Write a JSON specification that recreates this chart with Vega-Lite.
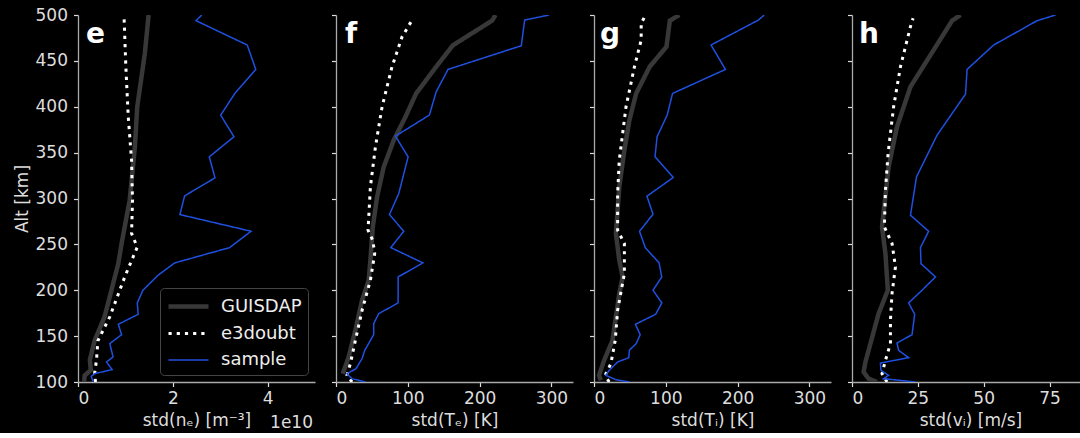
{
  "$schema": "https://vega.github.io/schema/vega-lite/v6.json",
  "background": "#000000",
  "padding": {"left": 13, "top": 6, "right": 0, "bottom": 2},
  "spacing": 21,
  "bounds": "flush",
  "datasets": {
    "d": [
      {"panel":"e","series":"GUISDAP","alt":500,"value":1.49e10},
      {"panel":"e","series":"GUISDAP","alt":458,"value":1.41e10},
      {"panel":"e","series":"GUISDAP","alt":400,"value":1.25e10},
      {"panel":"e","series":"GUISDAP","alt":356,"value":1.20e10},
      {"panel":"e","series":"GUISDAP","alt":298,"value":1.09e10},
      {"panel":"e","series":"GUISDAP","alt":251,"value":0.92e10},
      {"panel":"e","series":"GUISDAP","alt":229,"value":0.85e10},
      {"panel":"e","series":"GUISDAP","alt":171,"value":0.56e10},
      {"panel":"e","series":"GUISDAP","alt":145,"value":0.35e10},
      {"panel":"e","series":"GUISDAP","alt":124,"value":0.25e10},
      {"panel":"e","series":"GUISDAP","alt":113,"value":0.27e10},
      {"panel":"e","series":"GUISDAP","alt":107,"value":0.14e10},
      {"panel":"e","series":"GUISDAP","alt":100,"value":0.13e10},
      {"panel":"e","series":"e3doubt","alt":500,"value":0.97e10},
      {"panel":"e","series":"e3doubt","alt":443,"value":1.01e10},
      {"panel":"e","series":"e3doubt","alt":389,"value":1.06e10},
      {"panel":"e","series":"e3doubt","alt":342,"value":1.13e10},
      {"panel":"e","series":"e3doubt","alt":298,"value":1.15e10},
      {"panel":"e","series":"e3doubt","alt":262,"value":1.13e10},
      {"panel":"e","series":"e3doubt","alt":247,"value":1.25e10},
      {"panel":"e","series":"e3doubt","alt":236,"value":1.16e10},
      {"panel":"e","series":"e3doubt","alt":215,"value":0.99e10},
      {"panel":"e","series":"e3doubt","alt":171,"value":0.67e10},
      {"panel":"e","series":"e3doubt","alt":145,"value":0.42e10},
      {"panel":"e","series":"e3doubt","alt":124,"value":0.39e10},
      {"panel":"e","series":"e3doubt","alt":109,"value":0.35e10},
      {"panel":"e","series":"e3doubt","alt":100,"value":0.37e10},
      {"panel":"e","series":"sample","alt":500,"value":2.61e10},
      {"panel":"e","series":"sample","alt":493.8,"value":2.49e10},
      {"panel":"e","series":"sample","alt":467.3,"value":3.57e10},
      {"panel":"e","series":"sample","alt":440.7,"value":3.75e10},
      {"panel":"e","series":"sample","alt":414.5,"value":3.31e10},
      {"panel":"e","series":"sample","alt":390.9,"value":3.01e10},
      {"panel":"e","series":"sample","alt":367.3,"value":3.29e10},
      {"panel":"e","series":"sample","alt":345.4,"value":2.77e10},
      {"panel":"e","series":"sample","alt":322.5,"value":2.89e10},
      {"panel":"e","series":"sample","alt":302.9,"value":2.25e10},
      {"panel":"e","series":"sample","alt":282.5,"value":2.15e10},
      {"panel":"e","series":"sample","alt":264.3,"value":3.65e10},
      {"panel":"e","series":"sample","alt":246.5,"value":3.20e10},
      {"panel":"e","series":"sample","alt":229.8,"value":2.04e10},
      {"panel":"e","series":"sample","alt":216.4,"value":1.69e10},
      {"panel":"e","series":"sample","alt":200.0,"value":1.37e10},
      {"panel":"e","series":"sample","alt":186.2,"value":1.25e10},
      {"panel":"e","series":"sample","alt":173.8,"value":1.27e10},
      {"panel":"e","series":"sample","alt":162.9,"value":0.85e10},
      {"panel":"e","series":"sample","alt":151.6,"value":0.92e10},
      {"panel":"e","series":"sample","alt":141.8,"value":0.67e10},
      {"panel":"e","series":"sample","alt":127.3,"value":0.74e10},
      {"panel":"e","series":"sample","alt":121.8,"value":0.60e10},
      {"panel":"e","series":"sample","alt":113.5,"value":0.72e10},
      {"panel":"e","series":"sample","alt":109.1,"value":0.35e10},
      {"panel":"e","series":"sample","alt":106.2,"value":0.28e10},
      {"panel":"e","series":"sample","alt":100,"value":0.32e10},

      {"panel":"f","series":"GUISDAP","alt":500,"value":222},
      {"panel":"f","series":"GUISDAP","alt":494,"value":217.6},
      {"panel":"f","series":"GUISDAP","alt":467,"value":162.8},
      {"panel":"f","series":"GUISDAP","alt":443.6,"value":139.5},
      {"panel":"f","series":"GUISDAP","alt":414.5,"value":111.6},
      {"panel":"f","series":"GUISDAP","alt":389,"value":96.7},
      {"panel":"f","series":"GUISDAP","alt":363.6,"value":80.4},
      {"panel":"f","series":"GUISDAP","alt":334.5,"value":66.5},
      {"panel":"f","series":"GUISDAP","alt":301.8,"value":57.2},
      {"panel":"f","series":"GUISDAP","alt":269,"value":51.2},
      {"panel":"f","series":"GUISDAP","alt":232.7,"value":47.9},
      {"panel":"f","series":"GUISDAP","alt":211,"value":45.6},
      {"panel":"f","series":"GUISDAP","alt":189,"value":36.3},
      {"panel":"f","series":"GUISDAP","alt":156.4,"value":27},
      {"panel":"f","series":"GUISDAP","alt":127.3,"value":17.7},
      {"panel":"f","series":"GUISDAP","alt":109,"value":9.3},
      {"panel":"f","series":"e3doubt","alt":494.5,"value":106},
      {"panel":"f","series":"e3doubt","alt":476.3,"value":92},
      {"panel":"f","series":"e3doubt","alt":443.6,"value":78},
      {"panel":"f","series":"e3doubt","alt":400,"value":64.2},
      {"panel":"f","series":"e3doubt","alt":356.3,"value":54.9},
      {"panel":"f","series":"e3doubt","alt":312.7,"value":47.9},
      {"panel":"f","series":"e3doubt","alt":265.4,"value":44.6},
      {"panel":"f","series":"e3doubt","alt":254.5,"value":51.2},
      {"panel":"f","series":"e3doubt","alt":240,"value":53.9},
      {"panel":"f","series":"e3doubt","alt":211,"value":47.9},
      {"panel":"f","series":"e3doubt","alt":178,"value":36.3},
      {"panel":"f","series":"e3doubt","alt":145.5,"value":27},
      {"panel":"f","series":"e3doubt","alt":120,"value":20},
      {"panel":"f","series":"e3doubt","alt":107.3,"value":15.3},
      {"panel":"f","series":"e3doubt","alt":100,"value":22.3},
      {"panel":"f","series":"sample","alt":500,"value":296.7},
      {"panel":"f","series":"sample","alt":494.5,"value":262.7},
      {"panel":"f","series":"sample","alt":466.5,"value":258},
      {"panel":"f","series":"sample","alt":440.7,"value":156},
      {"panel":"f","series":"sample","alt":416.3,"value":139.5},
      {"panel":"f","series":"sample","alt":390.9,"value":130},
      {"panel":"f","series":"sample","alt":368,"value":82.8},
      {"panel":"f","series":"sample","alt":345.4,"value":100.4},
      {"panel":"f","series":"sample","alt":305.4,"value":87.4},
      {"panel":"f","series":"sample","alt":282.5,"value":74.4},
      {"panel":"f","series":"sample","alt":264.3,"value":94.4},
      {"panel":"f","series":"sample","alt":246.5,"value":76.3},
      {"panel":"f","series":"sample","alt":229.8,"value":121},
      {"panel":"f","series":"sample","alt":214.5,"value":86.5},
      {"panel":"f","series":"sample","alt":186.2,"value":86.5},
      {"panel":"f","series":"sample","alt":174.5,"value":59.5},
      {"panel":"f","series":"sample","alt":163.6,"value":52.5},
      {"panel":"f","series":"sample","alt":151.6,"value":52.5},
      {"panel":"f","series":"sample","alt":134.5,"value":40},
      {"panel":"f","series":"sample","alt":125.5,"value":36.3},
      {"panel":"f","series":"sample","alt":114.5,"value":27.9},
      {"panel":"f","series":"sample","alt":109,"value":15.3},
      {"panel":"f","series":"sample","alt":103.6,"value":22.3},
      {"panel":"f","series":"sample","alt":100,"value":40.9},

      {"panel":"g","series":"GUISDAP","alt":500,"value":118.8},
      {"panel":"g","series":"GUISDAP","alt":493.8,"value":105.6},
      {"panel":"g","series":"GUISDAP","alt":465.4,"value":100.9},
      {"panel":"g","series":"GUISDAP","alt":443.6,"value":77.5},
      {"panel":"g","series":"GUISDAP","alt":414.5,"value":58.7},
      {"panel":"g","series":"GUISDAP","alt":385.4,"value":49.3},
      {"panel":"g","series":"GUISDAP","alt":352.7,"value":42.3},
      {"panel":"g","series":"GUISDAP","alt":312.7,"value":35.2},
      {"panel":"g","series":"GUISDAP","alt":261.8,"value":30.5},
      {"panel":"g","series":"GUISDAP","alt":232.7,"value":35.2},
      {"panel":"g","series":"GUISDAP","alt":214.5,"value":39.9},
      {"panel":"g","series":"GUISDAP","alt":196.4,"value":35.2},
      {"panel":"g","series":"GUISDAP","alt":145.5,"value":25.8},
      {"panel":"g","series":"GUISDAP","alt":123.6,"value":14.1},
      {"panel":"g","series":"GUISDAP","alt":107.3,"value":7},
      {"panel":"g","series":"GUISDAP","alt":101.8,"value":9.4},
      {"panel":"g","series":"e3doubt","alt":500,"value":71.8},
      {"panel":"g","series":"e3doubt","alt":490.9,"value":65.7},
      {"panel":"g","series":"e3doubt","alt":472.7,"value":65.7},
      {"panel":"g","series":"e3doubt","alt":443.6,"value":56.3},
      {"panel":"g","series":"e3doubt","alt":400,"value":44.6},
      {"panel":"g","series":"e3doubt","alt":341.8,"value":35.2},
      {"panel":"g","series":"e3doubt","alt":305.5,"value":32.9},
      {"panel":"g","series":"e3doubt","alt":265.5,"value":32.9},
      {"panel":"g","series":"e3doubt","alt":250.9,"value":42.3},
      {"panel":"g","series":"e3doubt","alt":218.2,"value":42.3},
      {"panel":"g","series":"e3doubt","alt":178.2,"value":32.9},
      {"panel":"g","series":"e3doubt","alt":145.5,"value":29.6},
      {"panel":"g","series":"e3doubt","alt":120,"value":23.5},
      {"panel":"g","series":"e3doubt","alt":107.3,"value":15.5},
      {"panel":"g","series":"e3doubt","alt":100,"value":21.1},
      {"panel":"g","series":"sample","alt":500,"value":237},
      {"panel":"g","series":"sample","alt":494.5,"value":229},
      {"panel":"g","series":"sample","alt":467.3,"value":163},
      {"panel":"g","series":"sample","alt":440.7,"value":183},
      {"panel":"g","series":"sample","alt":414.5,"value":109.4},
      {"panel":"g","series":"sample","alt":390.9,"value":101.9},
      {"panel":"g","series":"sample","alt":367.3,"value":87.8},
      {"panel":"g","series":"sample","alt":345.4,"value":85},
      {"panel":"g","series":"sample","alt":322.9,"value":110.3},
      {"panel":"g","series":"sample","alt":302.5,"value":73.7},
      {"panel":"g","series":"sample","alt":282.9,"value":82.2},
      {"panel":"g","series":"sample","alt":264.3,"value":63.4},
      {"panel":"g","series":"sample","alt":246.5,"value":71.4},
      {"panel":"g","series":"sample","alt":229.8,"value":90.6},
      {"panel":"g","series":"sample","alt":214.5,"value":94.4},
      {"panel":"g","series":"sample","alt":200,"value":82.2},
      {"panel":"g","series":"sample","alt":186.2,"value":94.4},
      {"panel":"g","series":"sample","alt":173.8,"value":85.9},
      {"panel":"g","series":"sample","alt":162.9,"value":57.7},
      {"panel":"g","series":"sample","alt":151.6,"value":64.3},
      {"panel":"g","series":"sample","alt":141.8,"value":58.7},
      {"panel":"g","series":"sample","alt":134.7,"value":49.3},
      {"panel":"g","series":"sample","alt":126.5,"value":48.4},
      {"panel":"g","series":"sample","alt":121.8,"value":32.9},
      {"panel":"g","series":"sample","alt":112.7,"value":21.1},
      {"panel":"g","series":"sample","alt":107.3,"value":16.4},
      {"panel":"g","series":"sample","alt":102.5,"value":30.5},
      {"panel":"g","series":"sample","alt":100,"value":49.3},

      {"panel":"h","series":"GUISDAP","alt":500,"value":41.2},
      {"panel":"h","series":"GUISDAP","alt":493.8,"value":38.0},
      {"panel":"h","series":"GUISDAP","alt":461.8,"value":31.0},
      {"panel":"h","series":"GUISDAP","alt":421.8,"value":22.2},
      {"panel":"h","series":"GUISDAP","alt":378.2,"value":17.1},
      {"panel":"h","series":"GUISDAP","alt":334.5,"value":13.9},
      {"panel":"h","series":"GUISDAP","alt":269,"value":11.4},
      {"panel":"h","series":"GUISDAP","alt":240,"value":12.7},
      {"panel":"h","series":"GUISDAP","alt":200,"value":13.6},
      {"panel":"h","series":"GUISDAP","alt":174.5,"value":10.1},
      {"panel":"h","series":"GUISDAP","alt":141.8,"value":7.0},
      {"panel":"h","series":"GUISDAP","alt":121.8,"value":5.1},
      {"panel":"h","series":"GUISDAP","alt":110.9,"value":4.4},
      {"panel":"h","series":"GUISDAP","alt":103.6,"value":6.3},
      {"panel":"h","series":"GUISDAP","alt":100,"value":9.5},
      {"panel":"h","series":"e3doubt","alt":496.4,"value":23.2},
      {"panel":"h","series":"e3doubt","alt":487.3,"value":22.2},
      {"panel":"h","series":"e3doubt","alt":443.6,"value":18.4},
      {"panel":"h","series":"e3doubt","alt":400,"value":15.8},
      {"panel":"h","series":"e3doubt","alt":349,"value":13.7},
      {"panel":"h","series":"e3doubt","alt":309,"value":12.7},
      {"panel":"h","series":"e3doubt","alt":269,"value":12.3},
      {"panel":"h","series":"e3doubt","alt":251,"value":15.2},
      {"panel":"h","series":"e3doubt","alt":225.5,"value":16.5},
      {"panel":"h","series":"e3doubt","alt":196.4,"value":15.2},
      {"panel":"h","series":"e3doubt","alt":167.3,"value":14.6},
      {"panel":"h","series":"e3doubt","alt":141.8,"value":14.6},
      {"panel":"h","series":"e3doubt","alt":123.6,"value":12.7},
      {"panel":"h","series":"e3doubt","alt":109,"value":11.4},
      {"panel":"h","series":"e3doubt","alt":100,"value":13.3},
      {"panel":"h","series":"sample","alt":500,"value":77.3},
      {"panel":"h","series":"sample","alt":493.8,"value":70.3},
      {"panel":"h","series":"sample","alt":467.3,"value":53.8},
      {"panel":"h","series":"sample","alt":440.7,"value":43.7},
      {"panel":"h","series":"sample","alt":413.8,"value":43.1},
      {"panel":"h","series":"sample","alt":369,"value":32.3},
      {"panel":"h","series":"sample","alt":323.6,"value":24.5},
      {"panel":"h","series":"sample","alt":281.8,"value":22.2},
      {"panel":"h","series":"sample","alt":264.3,"value":29.1},
      {"panel":"h","series":"sample","alt":246.5,"value":26.0},
      {"panel":"h","series":"sample","alt":229,"value":26.2},
      {"panel":"h","series":"sample","alt":214.5,"value":31.7},
      {"panel":"h","series":"sample","alt":200,"value":26.6},
      {"panel":"h","series":"sample","alt":186.2,"value":21.5},
      {"panel":"h","series":"sample","alt":173.8,"value":23.8},
      {"panel":"h","series":"sample","alt":151.6,"value":22.8},
      {"panel":"h","series":"sample","alt":142.5,"value":17.1},
      {"panel":"h","series":"sample","alt":134.5,"value":17.7},
      {"panel":"h","series":"sample","alt":126.5,"value":21.5},
      {"panel":"h","series":"sample","alt":120.7,"value":10.8},
      {"panel":"h","series":"sample","alt":112.7,"value":11.0},
      {"panel":"h","series":"sample","alt":107.3,"value":13.9},
      {"panel":"h","series":"sample","alt":103.6,"value":12.0},
      {"panel":"h","series":"sample","alt":100,"value":24.1}
    ]
  },
  "resolve": {
    "scale": {"color": "independent", "strokeDash": "independent", "strokeWidth": "independent", "x": "independent", "y": "independent"},
    "legend": {"color": "independent", "strokeDash": "independent", "strokeWidth": "independent"}
  },
  "hconcat": [
    {
      "width": 237, "height": 367,
      "layer": [
        {
          "data": {"name": "d"},
          "transform": [{"filter": "datum.panel === 'e'"}],
          "mark": {"type": "line", "clip": true, "strokeCap": "butt"},
          "encoding": {
            "x": {"field": "value", "type": "quantitative", "scale": {"domain": [0, 5e10], "nice": false, "zero": false},
                  "axis": {"values": [0, 2e10, 4e10], "labelExpr": "format(datum.value / 1e10, 'd')", "title": "std(nₑ) [m⁻³]"}},
            "y": {"field": "alt", "type": "quantitative", "scale": {"domain": [100, 500], "nice": false, "zero": false},
                  "axis": {"values": [100, 150, 200, 250, 300, 350, 400, 450, 500], "title": "Alt [km]"}},
            "order": {"field": "alt", "type": "quantitative"},
            "color": {"field": "series", "type": "nominal",
                      "scale": {"domain": ["GUISDAP", "e3doubt", "sample"], "range": ["#383838", "#ffffff", "#1f50e0"]},
                      "legend": {"title": null, "orient": "bottom-right", "offset": 7, "symbolType": "M-1,0H3", "symbolSize": 400,
                                 "labelFontSize": 18, "labelColor": "#eeeeee", "fillColor": "#000000", "strokeColor": "#444444",
                                 "cornerRadius": 4, "padding": 6, "rowPadding": 6, "labelOffset": 30}},
            "strokeDash": {"field": "series", "type": "nominal",
                           "scale": {"domain": ["GUISDAP", "e3doubt", "sample"], "range": [[1, 0], [3.2, 5], [1, 0]]},
                           "legend": {"title": null, "orient": "bottom-right", "offset": 7, "symbolType": "M-1,0H3", "symbolSize": 400,
                                 "labelFontSize": 18, "labelColor": "#eeeeee", "fillColor": "#000000", "strokeColor": "#444444",
                                 "cornerRadius": 4, "padding": 6, "rowPadding": 6, "labelOffset": 30}},
            "strokeWidth": {"field": "series", "type": "nominal",
                            "scale": {"type": "point", "domain": ["GUISDAP", "e3doubt", "sample"], "range": [4.5, 1.5], "padding": 0},
                            "legend": {"title": null, "orient": "bottom-right", "offset": 7, "symbolType": "M-1,0H3", "symbolSize": 400,
                                 "labelFontSize": 18, "labelColor": "#eeeeee", "fillColor": "#000000", "strokeColor": "#444444",
                                 "cornerRadius": 4, "padding": 6, "rowPadding": 6, "labelOffset": 30}}
          }
        },
        {
          "data": {"values": [{}]},
          "mark": {"type": "text", "align": "left", "baseline": "alphabetic", "dx": 8, "dy": 28, "fontSize": 28, "fontWeight": "bold", "color": "#ffffff"},
          "encoding": {"x": {"datum": 0}, "y": {"datum": 500}, "text": {"value": "e"}}
        },
        {
          "data": {"values": [{}]},
          "mark": {"type": "text", "align": "right", "baseline": "alphabetic", "dx": -2, "dy": 46, "fontSize": 17, "color": "#dddddd"},
          "encoding": {"x": {"datum": 5e10}, "y": {"datum": 100}, "text": {"value": "1e10"}}
        }
      ]
    },
    {
      "width": 237, "height": 367,
      "layer": [
        {
          "data": {"name": "d"},
          "transform": [{"filter": "datum.panel === 'f'"}],
          "mark": {"type": "line", "clip": true, "strokeCap": "butt"},
          "encoding": {
            "x": {"field": "value", "type": "quantitative", "scale": {"domain": [0, 330], "nice": false, "zero": false},
                  "axis": {"values": [0, 100, 200, 300], "title": "std(Tₑ) [K]"}},
            "y": {"field": "alt", "type": "quantitative", "scale": {"domain": [100, 500], "nice": false, "zero": false},
                  "axis": {"values": [100, 150, 200, 250, 300, 350, 400, 450, 500], "title": null, "labels": false}},
            "order": {"field": "alt", "type": "quantitative"},
            "color": {"field": "series", "type": "nominal",
                      "scale": {"domain": ["GUISDAP", "e3doubt", "sample"], "range": ["#383838", "#ffffff", "#1f50e0"]}, "legend": null},
            "strokeDash": {"field": "series", "type": "nominal",
                           "scale": {"domain": ["GUISDAP", "e3doubt", "sample"], "range": [[1, 0], [3.2, 5], [1, 0]]}, "legend": null},
            "strokeWidth": {"field": "series", "type": "nominal",
                            "scale": {"type": "point", "domain": ["GUISDAP", "e3doubt", "sample"], "range": [4.5, 1.5], "padding": 0}, "legend": null}
          }
        },
        {
          "data": {"values": [{}]},
          "mark": {"type": "text", "align": "left", "baseline": "alphabetic", "dx": 9, "dy": 28, "fontSize": 28, "fontWeight": "bold", "color": "#ffffff"},
          "encoding": {"x": {"datum": 0}, "y": {"datum": 500}, "text": {"value": "f"}}
        }
      ]
    },
    {
      "width": 237, "height": 367,
      "layer": [
        {
          "data": {"name": "d"},
          "transform": [{"filter": "datum.panel === 'g'"}],
          "mark": {"type": "line", "clip": true, "strokeCap": "butt"},
          "encoding": {
            "x": {"field": "value", "type": "quantitative", "scale": {"domain": [0, 330], "nice": false, "zero": false},
                  "axis": {"values": [0, 100, 200, 300], "title": "std(Tᵢ) [K]"}},
            "y": {"field": "alt", "type": "quantitative", "scale": {"domain": [100, 500], "nice": false, "zero": false},
                  "axis": {"values": [100, 150, 200, 250, 300, 350, 400, 450, 500], "title": null, "labels": false}},
            "order": {"field": "alt", "type": "quantitative"},
            "color": {"field": "series", "type": "nominal",
                      "scale": {"domain": ["GUISDAP", "e3doubt", "sample"], "range": ["#383838", "#ffffff", "#1f50e0"]}, "legend": null},
            "strokeDash": {"field": "series", "type": "nominal",
                           "scale": {"domain": ["GUISDAP", "e3doubt", "sample"], "range": [[1, 0], [3.2, 5], [1, 0]]}, "legend": null},
            "strokeWidth": {"field": "series", "type": "nominal",
                            "scale": {"type": "point", "domain": ["GUISDAP", "e3doubt", "sample"], "range": [4.5, 1.5], "padding": 0}, "legend": null}
          }
        },
        {
          "data": {"values": [{}]},
          "mark": {"type": "text", "align": "left", "baseline": "alphabetic", "dx": 6, "dy": 28, "fontSize": 28, "fontWeight": "bold", "color": "#ffffff"},
          "encoding": {"x": {"datum": 0}, "y": {"datum": 500}, "text": {"value": "g"}}
        }
      ]
    },
    {
      "width": 237, "height": 367,
      "layer": [
        {
          "data": {"name": "d"},
          "transform": [{"filter": "datum.panel === 'h'"}],
          "mark": {"type": "line", "clip": true, "strokeCap": "butt"},
          "encoding": {
            "x": {"field": "value", "type": "quantitative", "scale": {"domain": [0, 90], "nice": false, "zero": false},
                  "axis": {"values": [0, 25, 50, 75], "title": "std(vᵢ) [m/s]"}},
            "y": {"field": "alt", "type": "quantitative", "scale": {"domain": [100, 500], "nice": false, "zero": false},
                  "axis": {"values": [100, 150, 200, 250, 300, 350, 400, 450, 500], "title": null, "labels": false}},
            "order": {"field": "alt", "type": "quantitative"},
            "color": {"field": "series", "type": "nominal",
                      "scale": {"domain": ["GUISDAP", "e3doubt", "sample"], "range": ["#383838", "#ffffff", "#1f50e0"]}, "legend": null},
            "strokeDash": {"field": "series", "type": "nominal",
                           "scale": {"domain": ["GUISDAP", "e3doubt", "sample"], "range": [[1, 0], [3.2, 5], [1, 0]]}, "legend": null},
            "strokeWidth": {"field": "series", "type": "nominal",
                            "scale": {"type": "point", "domain": ["GUISDAP", "e3doubt", "sample"], "range": [4.5, 1.5], "padding": 0}, "legend": null}
          }
        },
        {
          "data": {"values": [{}]},
          "mark": {"type": "text", "align": "left", "baseline": "alphabetic", "dx": 7, "dy": 28, "fontSize": 28, "fontWeight": "bold", "color": "#ffffff"},
          "encoding": {"x": {"datum": 0}, "y": {"datum": 500}, "text": {"value": "h"}}
        }
      ]
    }
  ],
  "config": {
    "font": "DejaVu Sans",
    "view": {"stroke": null},
    "axis": {
      "grid": false,
      "domainColor": "#aaaaaa", "domainWidth": 1.3,
      "tickColor": "#dddddd", "tickSize": 4.5, "tickWidth": 1.2,
      "labelColor": "#dddddd", "labelFontSize": 17, "labelFont": "DejaVu Sans",
      "titleColor": "#dddddd", "titleFontSize": 17, "titleFontWeight": "normal", "titleFont": "DejaVu Sans"
    },
    "axisX": {"titlePadding": 6, "labelPadding": 4},
    "axisY": {"titlePadding": 4, "labelPadding": 6}
  }
}
